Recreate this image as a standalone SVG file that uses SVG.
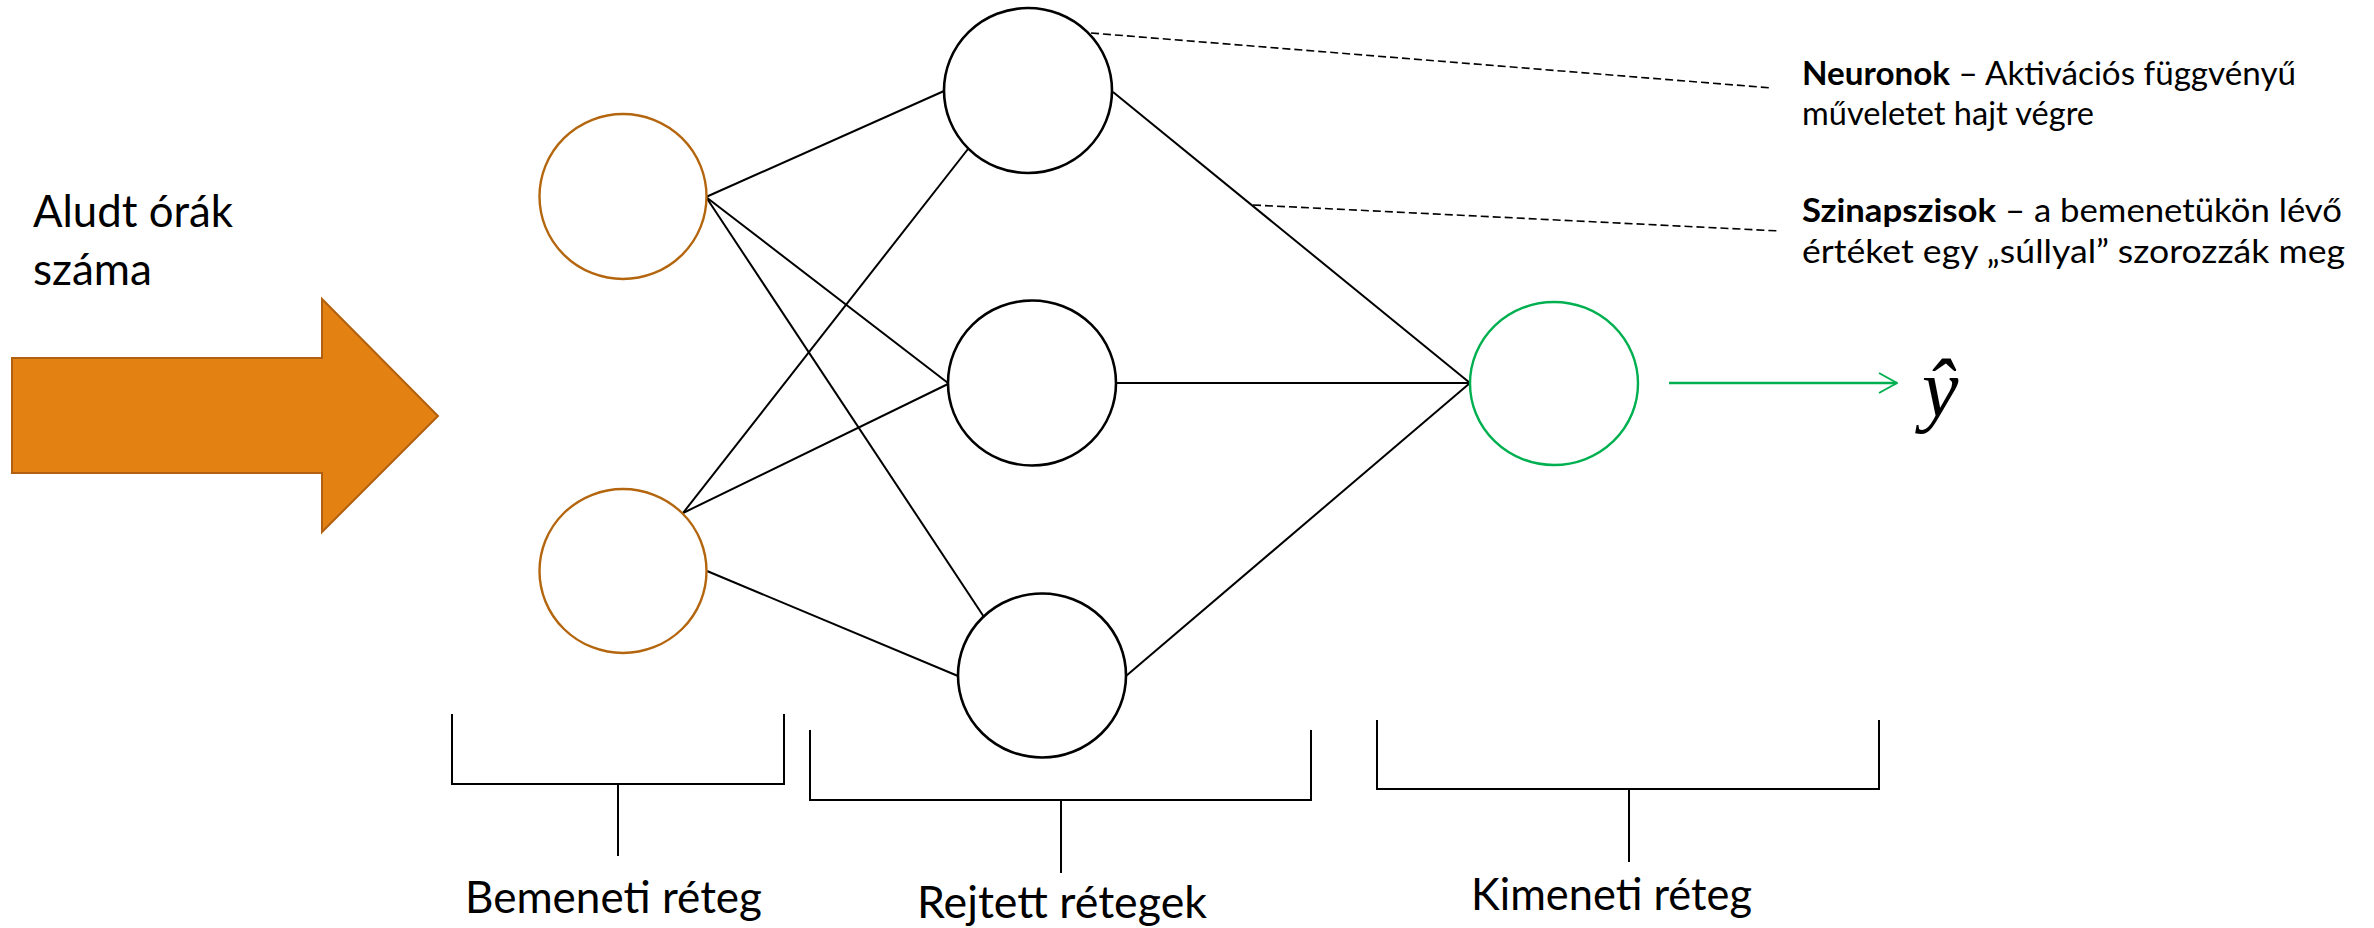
<svg xmlns="http://www.w3.org/2000/svg" width="2374" height="928" viewBox="0 0 2374 928">
  <defs>
    <style>
      .lbl { font-family: Lato, "Open Sans", "Liberation Sans", sans-serif; fill: #000; }
      .big { font-size: 44px; }
      .note { font-size: 32px; }
      .b { font-weight: bold; }
      .neuron { fill: #fff; stroke: #000; stroke-width: 2.6; }
      .input { fill: #fff; stroke: #B4660E; stroke-width: 2.4; }
      .output { fill: #fff; stroke: #00B050; stroke-width: 2.4; }
      .edge { stroke: #000; stroke-width: 2; fill: none; }
      .dash { stroke: #000; stroke-width: 1.6; stroke-dasharray: 8 4; fill: none; }
      .brace { stroke: #000; stroke-width: 2; fill: none; }
    </style>
    <marker id="openHead" viewBox="0 0 20 22" refX="19" refY="11" markerWidth="20" markerHeight="22" markerUnits="userSpaceOnUse" orient="auto">
      <path d="M1,1 L19,11 L1,21" fill="none" stroke="#00B050" stroke-width="2"/>
    </marker>
  </defs>

  <!-- input arrow and caption -->
  <g id="input-arrow">
    <polygon points="12,358 322,358 322,299 438,416 322,532 322,473 12,473" fill="#E38213" stroke="#B0600E" stroke-width="2"/>
  </g>
  <g id="input-caption">
    <text class="lbl big" x="33" y="227" textLength="200" lengthAdjust="spacingAndGlyphs">Aludt órák</text>
    <text class="lbl big" x="33" y="285" textLength="119" lengthAdjust="spacingAndGlyphs">száma</text>
  </g>

  <!-- connections between layers -->
  <g id="connectors">
    <line class="edge" x1="706" y1="197" x2="944" y2="91"/>
    <line class="edge" x1="706" y1="197" x2="948" y2="383"/>
    <line class="edge" x1="706" y1="197" x2="984" y2="617"/>
    <line class="edge" x1="683" y1="513" x2="968" y2="149"/>
    <line class="edge" x1="683" y1="513" x2="948" y2="384"/>
    <line class="edge" x1="707" y1="571" x2="958" y2="676"/>
    <line class="edge" x1="1113" y1="92" x2="1470" y2="383"/>
    <line class="edge" x1="1116" y1="383" x2="1470" y2="383"/>
    <line class="edge" x1="1126" y1="676" x2="1470" y2="383"/>
    <line x1="1669" y1="383" x2="1897" y2="383" stroke="#00B050" stroke-width="2.4" marker-end="url(#openHead)"/>
    <line class="dash" x1="1091" y1="33" x2="1772" y2="88"/>
    <line class="dash" x1="1253" y1="205" x2="1780" y2="231"/>
  </g>

  <!-- input layer -->
  <g id="in1"><ellipse class="input" cx="623" cy="196.5" rx="83.5" ry="82.5"/></g>
  <g id="in2"><ellipse class="input" cx="623" cy="571" rx="83.5" ry="82"/></g>

  <!-- hidden layer -->
  <g id="h1"><ellipse class="neuron" cx="1028" cy="90.5" rx="84" ry="82.5"/></g>
  <g id="h2"><ellipse class="neuron" cx="1032" cy="383" rx="84" ry="82.5"/></g>
  <g id="h3"><ellipse class="neuron" cx="1042" cy="675.5" rx="84" ry="82"/></g>

  <!-- output layer -->
  <g id="out"><ellipse class="output" cx="1554" cy="383.5" rx="84" ry="81.5"/></g>

  <!-- prediction symbol -->
  <g id="yhat">
    <text x="1922" y="416" font-family="'Liberation Serif', 'DejaVu Serif', serif" font-style="italic" font-size="82" fill="#000">ŷ</text>
  </g>

  <!-- annotations -->
  <g id="note-neurons">
    <text class="lbl note" x="1802" y="85" textLength="494" lengthAdjust="spacingAndGlyphs"><tspan class="b">Neuronok</tspan> – Aktivációs függvényű</text>
    <text class="lbl note" x="1802" y="125" textLength="292" lengthAdjust="spacingAndGlyphs">műveletet hajt végre</text>
  </g>
  <g id="note-synapses">
    <text class="lbl note" x="1802" y="222" textLength="540" lengthAdjust="spacingAndGlyphs"><tspan class="b">Szinapszisok</tspan> – a bemenetükön lévő</text>
    <text class="lbl note" x="1802" y="263" textLength="543" lengthAdjust="spacingAndGlyphs">értéket egy „súllyal” szorozzák meg</text>
  </g>

  <!-- layer brackets -->
  <g id="bracket-input">
    <path class="brace" d="M452,714 V784 H784 V714 M618,784 V856"/>
    <text class="lbl big" x="465" y="913" textLength="297" lengthAdjust="spacingAndGlyphs">Bemeneti réteg</text>
  </g>
  <g id="bracket-hidden">
    <path class="brace" d="M810,730 V800 H1311 V730 M1061,800 V873"/>
    <text class="lbl big" x="917" y="918" textLength="290" lengthAdjust="spacingAndGlyphs">Rejtett rétegek</text>
  </g>
  <g id="bracket-output">
    <path class="brace" d="M1377,720 V789 H1879 V720 M1629,789 V862"/>
    <text class="lbl big" x="1471" y="910" textLength="281" lengthAdjust="spacingAndGlyphs">Kimeneti réteg</text>
  </g>
</svg>
